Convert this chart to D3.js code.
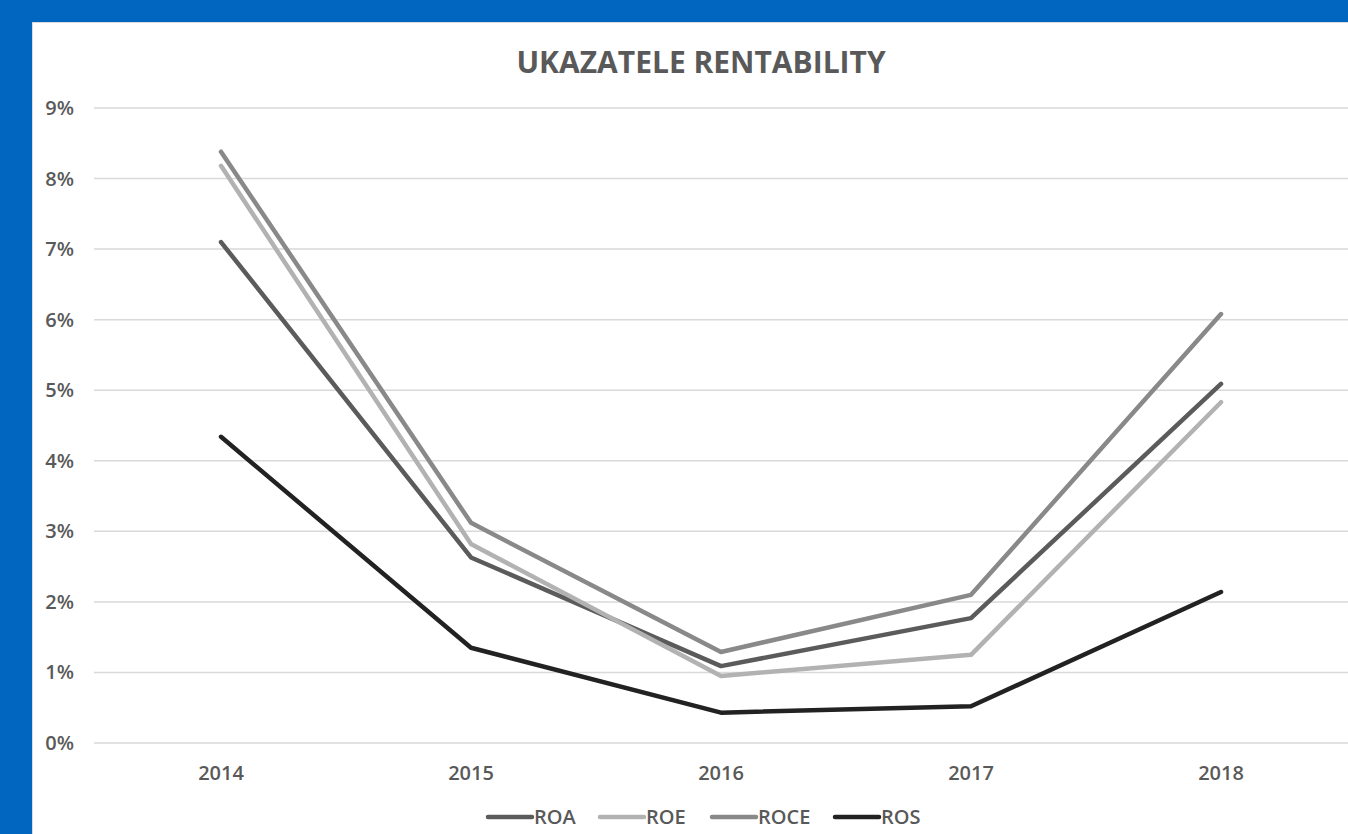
<!DOCTYPE html>
<html>
<head>
<meta charset="utf-8">
<script src="https://cdn.jsdelivr.net/npm/d3@7"></script>
<style>
  body { margin: 0; background: #0066c0; }
  svg { display: block; }
</style>
</head>
<body>
<script>
(function () {
  var years = ['2014', '2015', '2016', '2017', '2018'];
  var roa = [7.10, 2.63, 1.09, 1.77, 5.09];
  var roe = [8.18, 2.82, 0.95, 1.25, 4.83];
  var roce = [8.38, 3.12, 1.29, 2.10, 6.08];
  var ros = [4.34, 1.35, 0.43, 0.52, 2.14];
  var seriesNames = ['ROA', 'ROE', 'ROCE', 'ROS'];
  var yTicks = [0, 1, 2, 3, 4, 5, 6, 7, 8, 9];

  var colors = ['#5b5b5b', '#b2b2b2', '#898989', '#222222'];
  var series = [roa, roe, roce, ros].map(function (v, i) {
    return { name: seriesNames[i], values: v, color: colors[i] };
  });

  var width = 1348, height = 834;
  var font = '"Open Sans", "Noto Sans", sans-serif';

  var svg = d3.select('body').append('svg')
    .attr('width', width)
    .attr('height', height);

  // panel
  svg.append('rect')
    .attr('x', 32.5).attr('y', 22.5)
    .attr('width', width).attr('height', height)
    .attr('fill', '#fff')
    .attr('stroke', '#d9d9d9');

  var x = d3.scaleBand().domain(years).range([96, 1346]);
  var y = d3.scaleLinear().domain([0, 9]).range([743, 108]);

  // grid
  svg.append('g')
    .selectAll('line')
    .data(yTicks)
    .enter()
    .append('line')
    .attr('x1', 94).attr('x2', width)
    .attr('y1', function (d) { return y(d); })
    .attr('y2', function (d) { return y(d); })
    .attr('stroke', '#d9d9d9')
    .attr('stroke-width', 1.5);

  // y labels
  svg.append('g')
    .selectAll('text')
    .data(yTicks)
    .enter()
    .append('text')
    .attr('x', 74)
    .attr('y', function (d) { return y(d); })
    .attr('dy', '0.35em')
    .attr('text-anchor', 'end')
    .attr('font-family', font)
    .attr('font-size', 20)
    .attr('font-weight', 600)
    .attr('fill', '#595959')
    .text(function (d) { return d + '%'; });

  // x labels
  svg.append('g')
    .selectAll('text')
    .data(years)
    .enter()
    .append('text')
    .attr('x', function (d) { return x(d) + x.bandwidth() / 2; })
    .attr('y', 773)
    .attr('dy', '0.35em')
    .attr('text-anchor', 'middle')
    .attr('font-family', font)
    .attr('font-size', 20)
    .attr('font-weight', 600)
    .attr('fill', '#595959')
    .text(function (d) { return d; });

  // title
  svg.append('text')
    .attr('x', 701)
    .attr('y', 62)
    .attr('dy', '0.35em')
    .attr('text-anchor', 'middle')
    .attr('font-family', font)
    .attr('font-size', 30)
    .attr('font-weight', 700)
    .attr('fill', '#595959')
    .text('UKAZATELE RENTABILITY');

  var line = d3.line()
    .x(function (d, i) { return x(years[i]) + x.bandwidth() / 2; })
    .y(function (d) { return y(d); });

  svg.append('g')
    .selectAll('path')
    .data(series)
    .enter()
    .append('path')
    .attr('d', function (d) { return line(d.values); })
    .attr('fill', 'none')
    .attr('stroke', function (d) { return d.color; })
    .attr('stroke-width', 4.5)
    .attr('stroke-linecap', 'round')
    .attr('stroke-linejoin', 'round');

  // legend
  var legendX = [486, 598, 710, 833];
  var legend = svg.append('g')
    .selectAll('g')
    .data(series)
    .enter()
    .append('g')
    .attr('transform', function (d, i) { return 'translate(' + legendX[i] + ',817)'; });

  legend.append('line')
    .attr('x1', 2).attr('x2', 46)
    .attr('stroke', function (d) { return d.color; })
    .attr('stroke-width', 4.5)
    .attr('stroke-linecap', 'round');

  legend.append('text')
    .attr('x', 48)
    .attr('dy', '0.35em')
    .attr('font-family', font)
    .attr('font-size', 20)
    .attr('font-weight', 600)
    .attr('fill', '#595959')
    .text(function (d) { return d.name; });
}());
</script>
</body>
</html>
